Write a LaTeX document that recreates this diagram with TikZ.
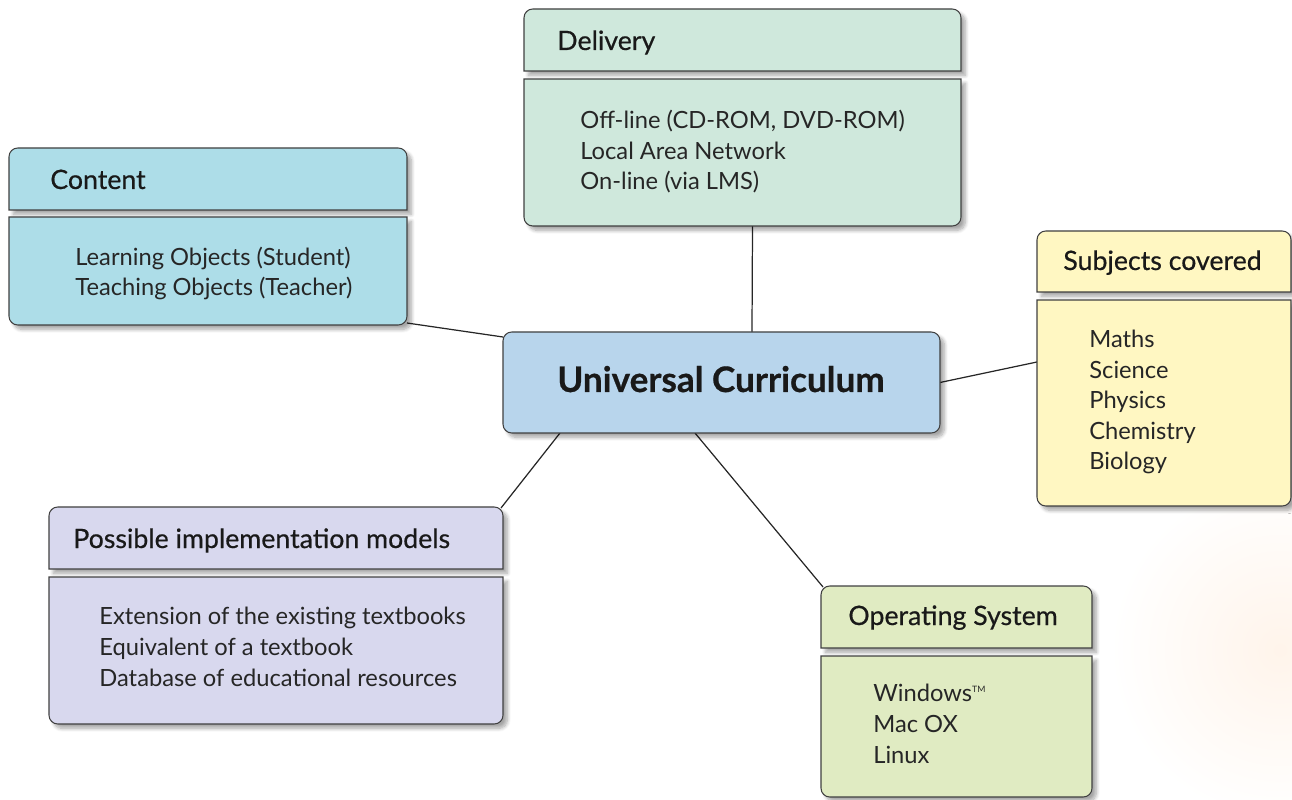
\documentclass[tikz,border=0pt]{standalone}
\usepackage{fontspec}
\setmainfont{Lato}
\newfontfamily\headfont{Lato}[FakeBold=0.5]
\usetikzlibrary{fit,calc,shadows.blur}

\begin{document}
\begin{tikzpicture}[x=0.02cm,y=-0.02cm,
		area/.style={inner sep=0pt,outer sep=0pt},
		outline/.style={draw=black!75,line width=0.6pt,
			blur shadow={shadow xshift=2.5pt,shadow yshift=-2.5pt,shadow blur steps=8,shadow opacity=35}},
		headtext/.style={anchor=base west,inner sep=0pt,font=\headfont\fontsize{15.2}{18}\selectfont,text=black!90},
		itemtext/.style={anchor=base west,inner sep=0pt,align=left,font=\fontsize{13.5}{17.4}\selectfont,text=black!85},
		link/.style={draw=black!85,line width=0.7pt}]
	\definecolor{contentcol}{HTML}{ADDDE8}
	\definecolor{deliverycol}{HTML}{CFE8DC}
	\definecolor{subjectcol}{HTML}{FFF7C2}
	\definecolor{modelcol}{HTML}{D8D8EE}
	\definecolor{oscol}{HTML}{E0EBC2}
	\definecolor{centrecol}{HTML}{B8D5EC}
	\useasboundingbox (0,0) rectangle (1292,800);
	
	% faint picture behind the right corner
	\shade[inner color=red!7!orange!8,outer color=white] (1280,650) circle (170);
	
	% boxes
	\node[area,fit={(9,148) (407,210)}] (conthead) {};
	\node[area,fit={(9,217) (407,325)}] (contbody) {};
	\node[area,fit={(524,9) (961,71)}] (delhead) {};
	\node[area,fit={(524,79) (961,226)}] (delbody) {};
	\node[area,fit={(1037,231) (1291,292)}] (subjhead) {};
	\node[area,fit={(1037,300) (1291,506)}] (subjbody) {};
	\node[area,fit={(49,507) (503,569)}] (modelhead) {};
	\node[area,fit={(49,577) (503,724)}] (modelbody) {};
	\node[area,fit={(821,586) (1092,648)}] (oshead) {};
	\node[area,fit={(821,656) (1092,797)}] (osbody) {};
	\node[area,fit={(503,332) (940,433)}] (uc) {};
	
	% connectors
	\draw[link] ($(contbody.south east)+(0,-2)$) -- ($(uc.north west)+(0,5)$);
	\draw[link] ($(delbody.south)+(10,0)$) -- ($(uc.north west)+(249,0)$);
	\draw[link] (uc.east) -- ($(subjbody.north west)+(0,62)$);
	\draw[link] ($(uc.south west)+(57,0)$) -- ($(modelhead.north east)+(-2,1)$);
	\draw[link] ($(uc.south west)+(192,0)$) -- ($(oshead.north west)+(2,1)$);
	
	\foreach \n/\c in {cont/contentcol,del/deliverycol,subj/subjectcol,model/modelcol,os/oscol}{
		\draw[outline,fill=\c] (\n head.south west) [rounded corners=5pt] -- (\n head.north west) -- (\n head.north east) [sharp corners] -- (\n head.south east) -- cycle;
		\draw[outline,fill=\c] (\n body.north east) [rounded corners=5pt] -- (\n body.south east) -- (\n body.south west) [sharp corners] -- (\n body.north west) -- cycle;
	}
	\draw[outline,fill=centrecol,rounded corners=5pt] (uc.north west) rectangle (uc.south east);
	
	% texts (item lists sit on the baseline of their last line)
	\node[anchor=base west,inner sep=0pt,font=\headfont\bfseries\fontsize{20}{22}\selectfont,text=black!90] (uctext) at (557,392) {Universal Curriculum};
	
	\node[headtext] (conttitle) at (50,189) {Content};
	\node[itemtext] (contitems) at (75,296) {Learning Objects (Student)\\Teaching Objects (Teacher)};
	
	\node[headtext] (deltitle) at (557,50) {Delivery};
	\node[itemtext] (delitems) at (580,190) {Off-line (CD-ROM, DVD-ROM)\\Local Area Network\\On-line (via LMS)};
	
	\node[headtext] (subjtitle) at (1063,270) {Subjects covered};
	\node[itemtext] (subjitems) at (1089,470) {Maths\\Science\\Physics\\Chemistry\\Biology};
	
	\node[headtext] (modeltitle) at (73,548) {Possible implementation models};
	\node[itemtext] (modelitems) at (99,686) {Extension of the existing textbooks\\Equivalent of a textbook\\Database of educational resources};
	
	\node[headtext] (ostitle) at (848,625) {Operating System};
	\node[itemtext] (ositems) at (873,763) {Windows\textsuperscript{\tiny TM}\\Mac OX\\Linux};
\end{tikzpicture}
\end{document}
